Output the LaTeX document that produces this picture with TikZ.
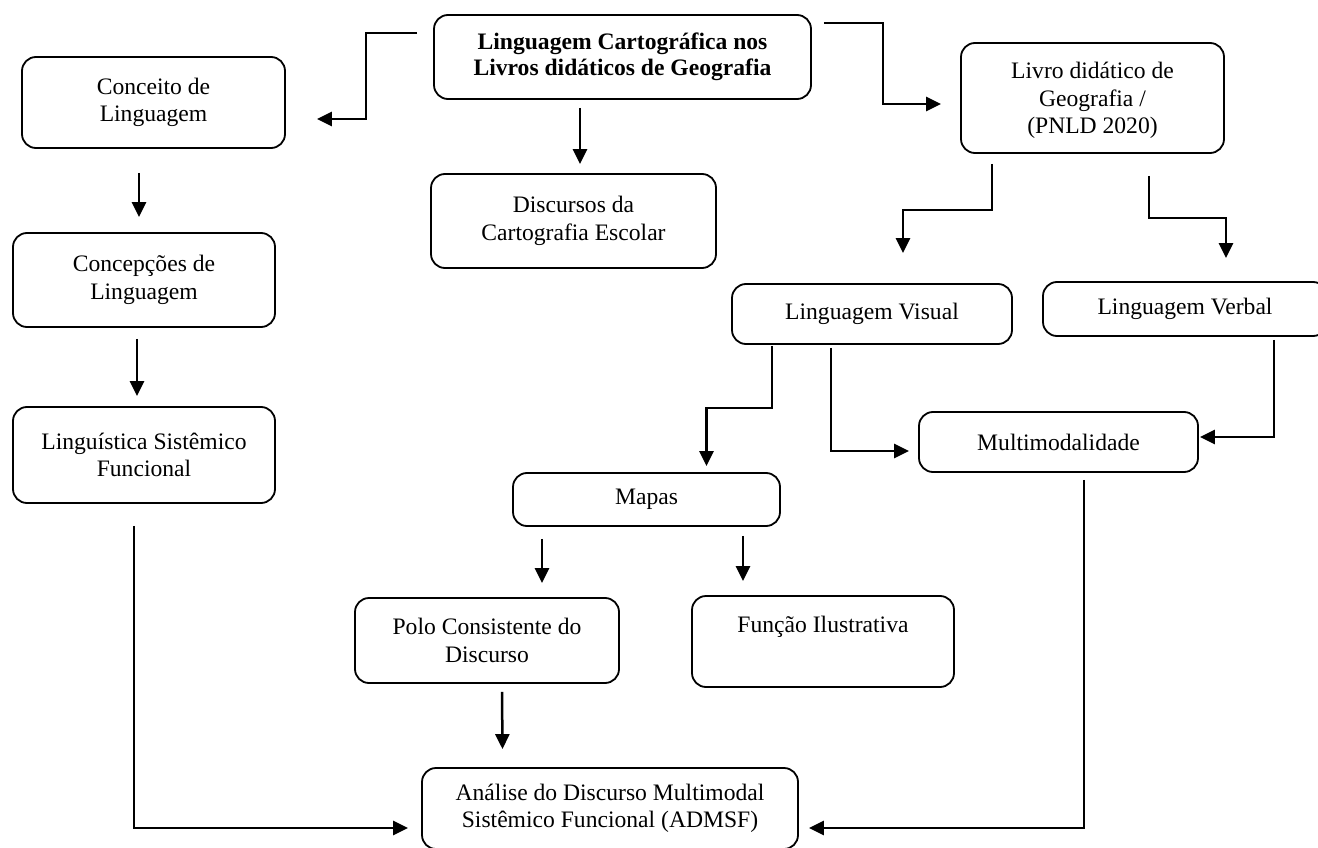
\documentclass[tikz,border=0pt]{standalone}
\usepackage{fontspec}
\setmainfont{Liberation Serif}
\usetikzlibrary{arrows.meta,calc}

\begin{document}
\begin{tikzpicture}[x=1pt, y=-1pt,
    box/.style={rectangle, draw, line width=1.8pt, rounded corners=14pt, align=center, inner sep=0pt, font=\fontsize{23.6}{27.5}\selectfont},
    conn/.style={line width=2.5pt, -{Triangle[length=15pt,width=14pt]}}]
      \useasboundingbox (0,0) rectangle (1318,848);

      % top title
      \node[box, minimum width=377pt, minimum height=84pt, font=\fontsize{23.6}{26}\selectfont\bfseries] (title) at (622.5,57) {Linguagem Cartográfica nos\\Livros didáticos de Geografia};
      \node[box, minimum width=285pt, minimum height=94pt] (disc) at (573.5,221) {Discursos da\\Cartografia Escolar};

      % left column
      \node[box, minimum width=263pt, minimum height=91pt] (conc) at (153.5,102.5) {Conceito de\\Linguagem};
      \node[box, minimum width=262pt, minimum height=94pt] (concep) at (144,280) {Concepções de\\Linguagem};
      \node[box, minimum width=262pt, minimum height=96pt] (lsf) at (144,455) {Linguística Sistêmico\\Funcional};

      % right side
      \node[box, minimum width=263pt, minimum height=110pt] (livro) at (1092.5,98) {\\[-6pt]Livro didático de\\Geografia /\\(PNLD 2020)};
      \node[box, minimum width=280pt, minimum height=60pt] (visual) at (872,314) {Linguagem Visual};
      \node[box, minimum width=284pt, minimum height=54pt] (verbal) at (1185,309) {Linguagem Verbal};
      \node[box, minimum width=279pt, minimum height=60pt] (multi) at (1058.5,442) {Multimodalidade};
      \node[box, minimum width=267pt, minimum height=53pt] (mapas) at (646.5,499.5) {Mapas};
      \node[box, minimum width=264pt, minimum height=85pt] (polo) at (487,640.5) {Polo Consistente do\\Discurso};
      \node[box, minimum width=262pt, minimum height=91pt] (func) at (823,641.5) {Função Ilustrativa\\[6pt]~};

      % bottom
      \node[box, minimum width=376pt, minimum height=81pt] (admsf) at (610,808.5) {Análise do Discurso Multimodal\\Sistêmico Funcional (ADMSF)};

      % connectors
      \draw[conn] ($(title.west)+(-16,-24)$) -- ++(-51,0) |- ($(conc.east)+(31,16.5)$);
      \draw[conn] ($(title.south)+(-42.5,8)$) -- ($(disc.north)+(6.5,-9)$);
      \draw[conn] ($(title.east)+(12,-34)$) -- ++(59,0) |- ($(livro.west)+(-19,6)$);
      \draw[conn] ($(conc.south)+(-14.5,24)$) -- ($(concep.north)+(-5,-15)$);
      \draw[conn] ($(concep.south)+(-7,11)$) -- ($(lsf.north)+(-7,-10)$);
      \draw[conn] ($(livro.south)+(-100.5,10)$) -- ++(0,46) -| ($(visual.north)+(31,-30)$);
      \draw[conn] ($(livro.south)+(56.5,22)$) -- ++(0,42) -| ($(verbal.north)+(41,-23)$);
      \draw[conn] ($(visual.south)+(-100,1)$) -- ++(0,62) -| ($(mapas.north)+(60,-6)$);
      \draw[conn] ($(visual.south)+(-41,3)$) |- ($(multi.west)+(-9,9)$);
      \draw[conn] ($(verbal.south)+(89,3)$) |- ($(multi.east)+(1,-5)$);
      \draw[conn] ($(mapas.south)+(-104.5,12)$) -- ($(polo.north)+(55,-14)$);
      \draw[conn] ($(mapas.south)+(96.5,9)$) -- ($(func.north)+(-80,-14)$);
      \draw[conn] ($(polo.south)+(15,8)$) -- ($(admsf.north)+(-107.5,-18)$);
      \draw[conn] ($(lsf.south)+(-10,22)$) |- ($(admsf.west)+(-13,19.5)$);
      \draw[conn] ($(multi.south)+(25.5,7)$) |- ($(admsf.east)+(10,19.5)$);
    \end{tikzpicture}
\end{document}
